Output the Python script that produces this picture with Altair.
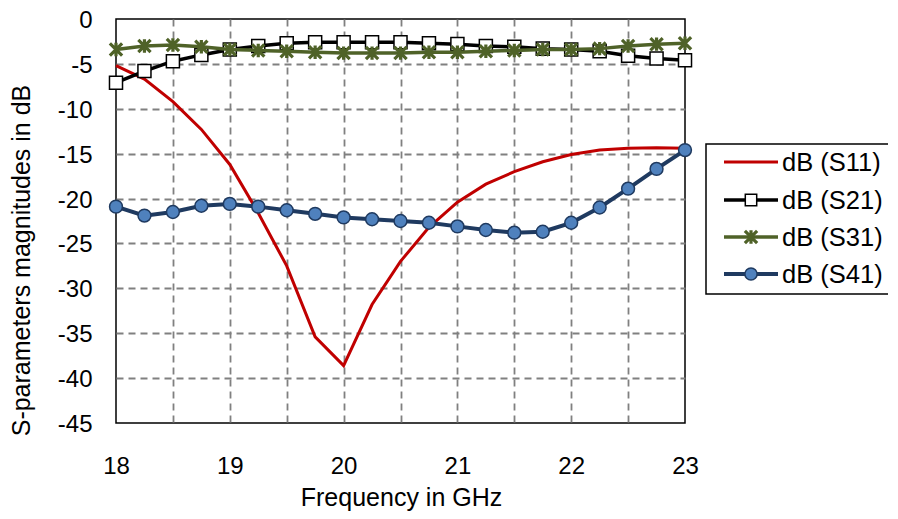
import altair as alt
import pandas as pd

freq = [18.0, 18.25, 18.5, 18.75, 19.0, 19.25, 19.5, 19.75, 20.0, 20.25, 20.5,
        20.75, 21.0, 21.25, 21.5, 21.75, 22.0, 22.25, 22.5, 22.75, 23.0]
s11 = [-5.2, -6.7, -9.2, -12.3, -16.2, -21.6, -27.5, -35.4, -38.6, -31.8, -27.0,
       -23.2, -20.4, -18.4, -17.0, -15.9, -15.1, -14.6, -14.4, -14.35, -14.4]
s21 = [-7.1, -5.8, -4.7, -4.0, -3.4, -3.0, -2.7, -2.6, -2.6, -2.6, -2.6,
       -2.7, -2.8, -3.0, -3.1, -3.3, -3.4, -3.6, -4.1, -4.4, -4.6]
s31 = [-3.4, -3.0, -2.9, -3.1, -3.4, -3.5, -3.6, -3.7, -3.8, -3.8, -3.8,
       -3.7, -3.7, -3.6, -3.5, -3.4, -3.4, -3.3, -3.0, -2.8, -2.7]
s41 = [-20.9, -21.9, -21.5, -20.8, -20.6, -20.9, -21.3, -21.7, -22.1, -22.3, -22.5,
       -22.7, -23.1, -23.5, -23.8, -23.7, -22.7, -21.0, -18.9, -16.7, -14.6]
series_names = ["dB (S11)", "dB (S21)", "dB (S31)", "dB (S41)"]
x_ticks = [18, 18.5, 19, 19.5, 20, 20.5, 21, 21.5, 22, 22.5, 23]
y_ticks = [-45, -40, -35, -30, -25, -20, -15, -10, -5, 0]

FONT = "Liberation Sans"
STAR = "M-1,-1L1,1M-1,1L1,-1M0,-1.1L0,1.1"

rows = []
for name, vals in zip(series_names, [s11, s21, s31, s41]):
    for f, v in zip(freq, vals):
        rows.append({"series": name, "freq": f, "db": v})
df = pd.DataFrame(rows)

xenc = alt.X("freq:Q", scale=alt.Scale(domain=[18, 23], nice=False, zero=False),
             axis=alt.Axis(values=x_ticks, title="Frequency in GHz",
                           labelExpr="datum.value % 1 == 0 ? '' + datum.value : ''",
                           labelBaseline="alphabetic", labelPadding=50, labelFlush=False,
                           titleX=285, titleY=82, titleBaseline="alphabetic",
                           titleAlign="center",
                           gridOpacity={"condition": {"test": "datum.value == 18 || datum.value == 23", "value": 0}, "value": 1}))
yenc = alt.Y("db:Q", scale=alt.Scale(domain=[-45, 0], nice=False, zero=False),
             axis=alt.Axis(values=y_ticks, title="S-parameters magnitudes in dB",
                           labelExpr="'' + datum.value", labelFlush=False, labelOffset=1.5,
                           labelPadding=24, titleX=-87, titleY=241,
                           titleAngle=270, titleBaseline="alphabetic",
                           titleAlign="center",
                           gridOpacity={"condition": {"test": "datum.value == 0 || datum.value == -45", "value": 0}, "value": 1}))

base = alt.Chart(df)

def filt(name):
    return base.transform_filter(alt.datum.series == name)

l11 = filt("dB (S11)").mark_line(color="#C00000", strokeWidth=3).encode(x=xenc, y=yenc)
l21 = filt("dB (S21)").mark_line(color="#000000", strokeWidth=3.5).encode(x=xenc, y=yenc)
p21 = filt("dB (S21)").mark_point(shape="square", filled=True, fill="white", stroke="black",
                                  strokeWidth=1.5, size=170, opacity=1).encode(x=xenc, y=yenc)
l31 = filt("dB (S31)").mark_line(color="#4F6228", strokeWidth=3.5).encode(x=xenc, y=yenc)
p31 = filt("dB (S31)").mark_point(shape=STAR, filled=False, stroke="#4F6228",
                                  strokeWidth=3.2, size=150, opacity=1).encode(x=xenc, y=yenc)
l41 = filt("dB (S41)").mark_line(color="#1F3A60", strokeWidth=4).encode(x=xenc, y=yenc)
p41 = filt("dB (S41)").mark_point(shape="circle", filled=True, fill="#4F81BD", stroke="#1F3A60",
                                  strokeWidth=1.5, size=165, opacity=1).encode(x=xenc, y=yenc)

# legend (drawn by hand, like the Excel legend)
one = alt.Chart(pd.DataFrame({"k": [0]}))
legend_layers = [
    one.mark_rect(fill="white", stroke="black", strokeWidth=1.5).encode(
        x=alt.value(590), x2=alt.value(778), y=alt.value(125), y2=alt.value(275))
]
leg_y = [143, 181, 218, 255]
line_styles = [("#C00000", 3), ("#000000", 3.5), ("#4F6228", 3.5), ("#1F3A60", 4)]
for i, name in enumerate(series_names):
    col, w = line_styles[i]
    legend_layers.append(one.mark_rule(color=col, strokeWidth=w).encode(
        x=alt.value(608), x2=alt.value(662), y=alt.value(leg_y[i])))
    if i == 1:
        legend_layers.append(one.mark_point(shape="square", filled=True, fill="white", stroke="black",
                                            strokeWidth=1.5, size=130, opacity=1).encode(
            x=alt.value(635), y=alt.value(leg_y[i])))
    elif i == 2:
        legend_layers.append(one.mark_point(shape=STAR, filled=False, stroke="#4F6228",
                                            strokeWidth=3.2, size=150, opacity=1).encode(
            x=alt.value(635), y=alt.value(leg_y[i])))
    elif i == 3:
        legend_layers.append(one.mark_point(shape="circle", filled=True, fill="#4F81BD", stroke="#1F3A60",
                                            strokeWidth=1.5, size=150, opacity=1).encode(
            x=alt.value(635), y=alt.value(leg_y[i])))
    legend_layers.append(one.mark_text(align="left", baseline="middle", font=FONT, fontSize=25.5,
                                       color="black").encode(
        x=alt.value(666), y=alt.value(leg_y[i] + 1), text=alt.value(name)))

chart = alt.layer(l11, l21, p21, l31, p31, l41, p41, *legend_layers).properties(
    width=569, height=404,
    autosize=alt.AutoSizeParams(type="none"),
    padding={"left": 108, "top": 11, "right": 203, "bottom": 88},
).configure_view(
    stroke="black", strokeWidth=1.5
).configure_axis(
    domain=False, ticks=False, tickSize=0, grid=True,
    gridColor="#808080", gridDash=[7, 5], gridWidth=1.8,
    labelFont=FONT, labelFontSize=24, labelColor="black",
    titleFont=FONT, titleFontSize=25, titleFontWeight="normal", titleColor="black",
)

chart.save("out.html", embed_options={"renderer": "svg", "actions": False})
